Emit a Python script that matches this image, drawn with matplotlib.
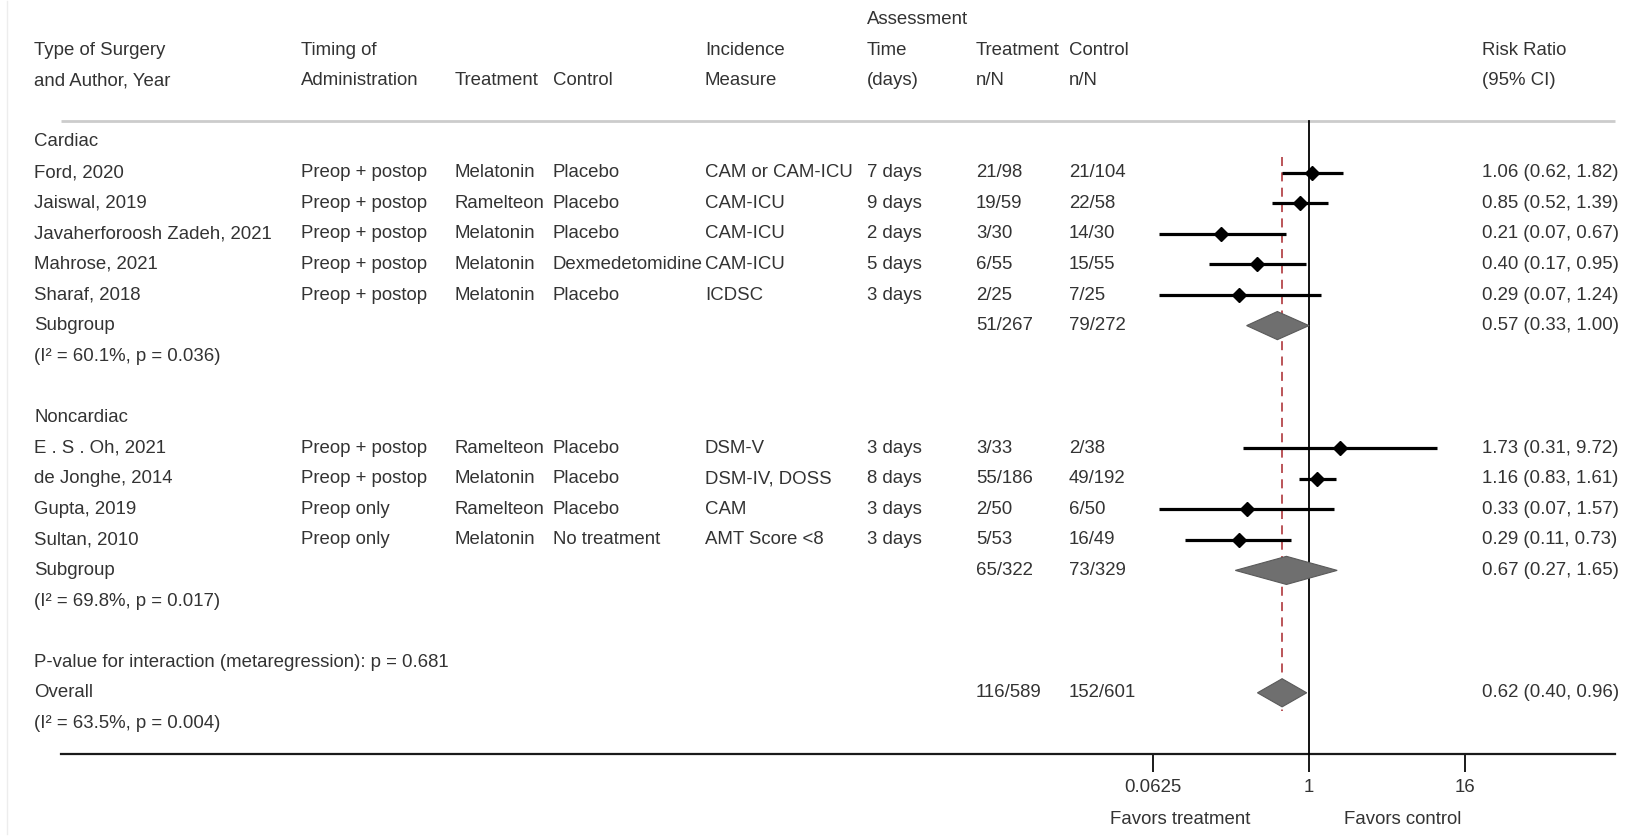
import numpy as np
import matplotlib
matplotlib.use("Agg")
import matplotlib.pyplot as plt
from matplotlib.transforms import blended_transform_factory

plt.rcParams['font.family'] = ['Liberation Sans', 'DejaVu Sans']

# ---- study-level data ----
studies = ["Ford, 2020", "Jaiswal, 2019", "Javaherforoosh Zadeh, 2021", "Mahrose, 2021",
           "Sharaf, 2018", "E . S . Oh, 2021", "de Jonghe, 2014", "Gupta, 2019", "Sultan, 2010"]
timing = ["Preop + postop"] * 7 + ["Preop only"] * 2
treatments = ["Melatonin", "Ramelteon", "Melatonin", "Melatonin", "Melatonin",
              "Ramelteon", "Melatonin", "Ramelteon", "Melatonin"]
controls = ["Placebo", "Placebo", "Placebo", "Dexmedetomidine", "Placebo",
            "Placebo", "Placebo", "Placebo", "No treatment"]
measures = ["CAM or CAM-ICU", "CAM-ICU", "CAM-ICU", "CAM-ICU", "ICDSC",
            "DSM-V", "DSM-IV, DOSS", "CAM", "AMT Score <8"]
times = ["7 days", "9 days", "2 days", "5 days", "3 days",
         "3 days", "8 days", "3 days", "3 days"]
trt_events = ["21/98", "19/59", "3/30", "6/55", "2/25", "3/33", "55/186", "2/50", "5/53"]
ctl_events = ["21/104", "22/58", "14/30", "15/55", "7/25", "2/38", "49/192", "6/50", "16/49"]
rr = [1.06, 0.85, 0.21, 0.40, 0.29, 1.73, 1.16, 0.33, 0.29]
rr_lo = [0.62, 0.52, 0.07, 0.17, 0.07, 0.31, 0.83, 0.07, 0.11]
rr_hi = [1.82, 1.39, 0.67, 0.95, 1.24, 9.72, 1.61, 1.57, 0.73]

# ---- pooled estimates: Cardiac, Noncardiac, Overall ----
pooled_labels = ["Subgroup", "Subgroup", "Overall"]
pooled_trt = ["51/267", "65/322", "116/589"]
pooled_ctl = ["79/272", "73/329", "152/601"]
pooled_rr = [0.57, 0.67, 0.62]
pooled_lo = [0.33, 0.27, 0.40]
pooled_hi = [1.00, 1.65, 0.96]
pooled_het = ["(I² = 60.1%, p = 0.036)", "(I² = 69.8%, p = 0.017)", "(I² = 63.5%, p = 0.004)"]

groups = ["Cardiac", "Noncardiac"]
interaction = "P-value for interaction (metaregression): p = 0.681"
ticks = [0.0625, 1, 16]
tick_labels = ["0.0625", "1", "16"]

# ---- layout (pixels / row indices) ----
W, H = 1636, 836
ROW0, ROWH = 142.0, 30.6
study_rows = [1, 2, 3, 4, 5, 10, 11, 12, 13]
group_rows = [0, 9]
pooled_rows = [6, 14, 18]
X1, PX_PER_L2 = 1309.0, 39.0

fig = plt.figure(figsize=(W / 100, H / 100), dpi=100)
ax = fig.add_axes([0, 0, 1, 1])
ax.set_xscale('log', base=2)
ax.set_xlim(2 ** (-X1 / PX_PER_L2), 2 ** ((W - X1) / PX_PER_L2))
ax.set_ylim((H - ROW0) / ROWH, -ROW0 / ROWH)
ax.patch.set_alpha(0)
for s in ['top', 'left', 'right']:
    ax.spines[s].set_visible(False)
ax.set_yticks([])

TXT = '#333333'
FS = 13.4
tr = blended_transform_factory(fig.transFigure, ax.transData)


def put(xpx, row, s, **kw):
    kw.setdefault('ha', 'left')
    ax.text(xpx / W, row, s, transform=tr, va='center', fontsize=FS, color=TXT, **kw)


# column x positions (px)
C_AUTH, C_TIME, C_TRT, C_CTL, C_MEAS, C_DAYS, C_NT, C_NC, C_RR = 34, 301, 455, 553, 705, 867, 976, 1069, 1482

# header
put(C_DAYS, -4, "Assessment")
put(C_AUTH, -3, "Type of Surgery"); put(C_AUTH, -2, "and Author, Year")
put(C_TIME, -3, "Timing of"); put(C_TIME, -2, "Administration")
put(C_TRT, -2, "Treatment"); put(C_CTL, -2, "Control")
put(C_MEAS, -3, "Incidence"); put(C_MEAS, -2, "Measure")
put(C_DAYS, -3, "Time"); put(C_DAYS, -2, "(days)")
put(C_NT, -3, "Treatment"); put(C_NT, -2, "n/N")
put(C_NC, -3, "Control"); put(C_NC, -2, "n/N")
put(C_RR, -3, "Risk Ratio"); put(C_RR, -2, "(95% CI)")

# horizontal rules
ax.plot([61 / W, 1615 / W], [-0.69, -0.69], transform=tr, color='#cccccc', lw=2.0,
        solid_capstyle='butt')
ax.plot([7 / W, 7 / W], [-4.6, 22.6], transform=tr, color='#ededed', lw=1.0)

# group headings
for g, r in zip(groups, group_rows):
    put(C_AUTH, r, g)

# study rows
for i, r in enumerate(study_rows):
    put(C_AUTH, r, studies[i])
    put(C_TIME, r, timing[i])
    put(C_TRT, r, treatments[i])
    put(C_CTL, r, controls[i])
    put(C_MEAS, r, measures[i])
    put(C_DAYS, r, times[i])
    put(C_NT, r, trt_events[i])
    put(C_NC, r, ctl_events[i])
    put(C_RR, r, f"{rr[i]:.2f} ({rr_lo[i]:.2f}, {rr_hi[i]:.2f})")
    ax.plot([rr_lo[i], rr_hi[i]], [r, r], color='black', lw=2.3, solid_capstyle='butt', zorder=4)
    ax.plot([rr[i]], [r], marker='D', ms=7, color='black', zorder=5)

# pooled rows
put(C_AUTH, 17, interaction)
for j, r in enumerate(pooled_rows):
    put(C_AUTH, r, pooled_labels[j])
    put(C_AUTH, r + 1, pooled_het[j])
    put(C_NT, r, pooled_trt[j])
    put(C_NC, r, pooled_ctl[j])
    put(C_RR, r, f"{pooled_rr[j]:.2f} ({pooled_lo[j]:.2f}, {pooled_hi[j]:.2f})")
    h = 0.46
    ax.fill([pooled_lo[j], pooled_rr[j], pooled_hi[j], pooled_rr[j]],
            [r, r - h, r, r + h], facecolor='#6f6f6f', edgecolor='#5a5a5a', lw=0.8, zorder=4)

# reference lines
ax.plot([1, 1], [-0.69, 20], color='black', lw=1.3, zorder=3)
ax.plot([pooled_rr[2]] * 2, [0.5, 18.6], color='#b5474b', lw=1.3, ls=(0, (5, 3.5)), zorder=3)

# x axis: bottom rule with log2 ticks
ax.spines['bottom'].set_position(('data', 20))
ax.spines['bottom'].set_bounds(2 ** ((61 - X1) / PX_PER_L2), 2 ** ((1615 - X1) / PX_PER_L2))
ax.spines['bottom'].set_linewidth(1.6)
ax.spines['bottom'].set_color('#1a1a1a')
ax.set_xticks(ticks)
ax.set_xticklabels(tick_labels)
ax.xaxis.set_minor_locator(matplotlib.ticker.NullLocator())
ax.tick_params(axis='x', direction='out', length=13, width=1.4, pad=5,
               labelsize=FS, labelcolor=TXT, color='#1a1a1a')

put(1180, 22.15, "Favors treatment", ha='center')
put(1403, 22.15, "Favors control", ha='center')

fig.savefig("out.png", dpi=100, facecolor='white')
